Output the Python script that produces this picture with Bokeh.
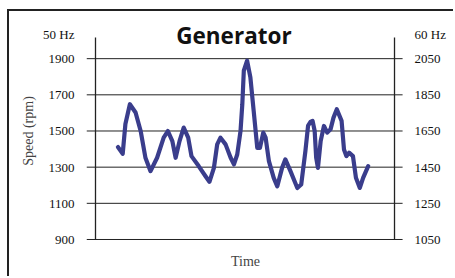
from bokeh.plotting import figure
from bokeh.models import Range1d, LinearAxis, FixedTicker, Label
from bokeh.embed import file_html
from bokeh.resources import INLINE

# data: time (s) and speed (rpm)
time = [7.5, 9.1, 10.0, 11.5, 13.4, 15.1, 16.7, 18.4, 20.6, 22.8, 24.2, 25.7, 26.8,
        28.1, 29.5, 31.0, 32.1, 34.5, 36.8, 38.1, 39.6, 40.7, 41.8, 43.5, 45.2, 46.3,
        47.4, 48.5, 49.1, 49.6, 50.7, 51.8, 52.9, 54.1, 55.0, 56.1, 56.9, 58.0, 59.6,
        60.8, 62.4, 63.5, 65.2, 67.5, 68.8, 70.2, 71.1, 71.9, 72.6, 73.3, 73.8, 74.4,
        75.3, 76.4, 77.5, 78.6, 79.6, 80.7, 82.3, 83.1, 83.9, 84.8, 86.1, 87.1, 88.4,
        89.5, 91.2]
speed = [1411, 1374, 1539, 1648, 1602, 1500, 1352, 1278, 1352, 1463, 1500, 1444, 1352,
         1444, 1519, 1463, 1361, 1306, 1250, 1219, 1296, 1426, 1463, 1426, 1352, 1315,
         1370, 1500, 1648, 1833, 1889, 1796, 1611, 1407, 1407, 1491, 1463, 1333, 1241,
         1194, 1296, 1343, 1278, 1185, 1204, 1389, 1530, 1550, 1556, 1500, 1352, 1296,
         1444, 1528, 1491, 1509, 1574, 1620, 1556, 1398, 1361, 1380, 1361, 1241, 1185,
         1241, 1306, 1343]
left_ticks = [900, 1100, 1300, 1500, 1700, 1900]
right_ticks = [1050, 1250, 1450, 1650, 1850, 2050]
offset_60hz = 150
hz_label_pos = 2033          # position of the "50 Hz" / "60 Hz" captions (left scale)
axis_top = 2017              # top of the drawn axis lines
t_start, t_end = 0, 100      # time span of the axes

SERIF = "Liberation Serif"
DARK = "#222222"

y0, y1 = 888.9, 2111
p = figure(width=446, height=267, output_backend="svg", toolbar_location=None,
           x_range=Range1d(-3.01, 103.34), y_range=Range1d(y0, y1),
           y_axis_location=None, x_axis_location=None,
           min_border_left=77, min_border_right=51, min_border_top=9,
           min_border_bottom=37,
           styles={"margin-left": "7px", "margin-top": "9px",
                   "border-top": "2px solid #222", "border-left": "2px solid #222"})
p.outline_line_color = None
p.background_fill_color = "white"
p.border_fill_color = "white"
p.xgrid.visible = False
p.ygrid.visible = False

p.extra_y_ranges = {"hz60": Range1d(y0 + offset_60hz, y1 + offset_60hz)}

def style_axis(ax):
    ax.axis_line_color = None
    ax.major_tick_line_color = None
    ax.minor_tick_line_color = None
    ax.major_tick_out = 0
    ax.major_tick_in = 0
    ax.major_label_text_font = SERIF
    ax.major_label_text_font_size = "13px"
    ax.major_label_text_color = "#111111"

la = LinearAxis(ticker=FixedTicker(ticks=left_ticks + [hz_label_pos]),
                major_label_overrides={hz_label_pos: "50 Hz"},
                axis_label="Speed (rpm)",
                axis_label_text_font=SERIF, axis_label_text_font_size="14px",
                axis_label_text_font_style="normal", axis_label_standoff=4,
                major_label_standoff=12)
style_axis(la)
p.add_layout(la, "left")

ra = LinearAxis(ticker=FixedTicker(ticks=right_ticks + [hz_label_pos + offset_60hz]),
                major_label_overrides={hz_label_pos + offset_60hz: "60 Hz"},
                y_range_name="hz60", major_label_standoff=10)
style_axis(ra)
p.add_layout(ra, "right")

xa = LinearAxis(ticker=FixedTicker(ticks=[]), axis_label="Time",
                axis_label_text_font=SERIF, axis_label_text_font_size="14px",
                axis_label_text_font_style="normal", axis_label_standoff=12)
xa.axis_line_color = None
xa.major_tick_line_color = None
xa.minor_tick_line_color = None
p.add_layout(xa, "below")

# horizontal grid lines, extending as ticks past both axes
for t in left_ticks:
    p.line(x=[-3.01, 102.7], y=[t, t], line_color=DARK, line_width=1)
# vertical axis lines
for xv in (t_start, t_end):
    p.line(x=[xv, xv], y=[left_ticks[0], axis_top], line_color=DARK, line_width=1.3)

p.line(time, speed, line_color="#3a3d8c", line_width=4.2,
       line_join="round", line_cap="round")

p.add_layout(Label(x=46.3, y=2030, text="Generator", text_align="center",
                   text_baseline="middle", text_font="Open Sans",
                   text_font_style="bold", text_font_size="22.5px", text_color="#111111"))

open("out.html", "w").write(file_html(p, INLINE))
